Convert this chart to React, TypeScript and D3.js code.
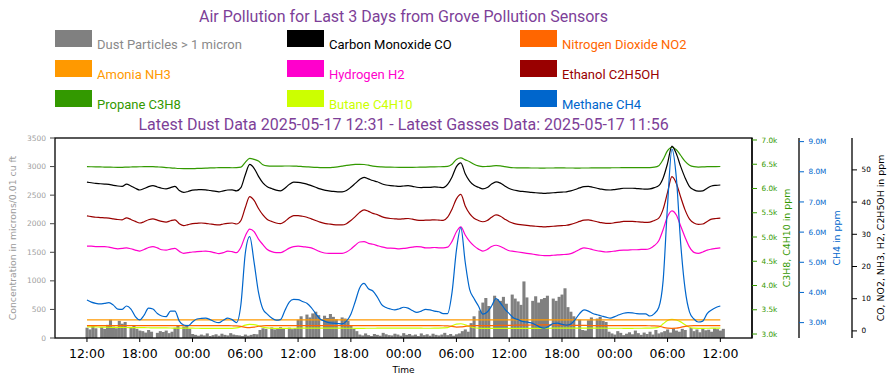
import React from 'react';
import * as d3 from 'd3';

const W = 896;
const H = 385;

const title = 'Air Pollution for Last 3 Days from Grove Pollution Sensors';
const subtitle = 'Latest Dust Data 2025-05-17 12:31 - Latest Gasses Data: 2025-05-17 11:56';

// time axis (matplotlib style 5% padding around the data)
const xMin = new Date(2025, 4, 14, 8, 22);
const xMax = new Date(2025, 4, 17, 15, 36);
const xTicks = d3.timeHour.every(6)!.range(new Date(2025, 4, 14, 12, 0), new Date(2025, 4, 17, 12, 1));

// dust every 20 min from 2025-05-14 12:00, gases every 30 min
const dustStart = new Date(2025, 4, 14, 12, 0);
const dustStepMin = 20;
const gasStart = new Date(2025, 4, 14, 12, 0);
const gasStepMin = 30;

const dust = [
  180, 150, 210, 170, 0, 190, 160, 230, 320, 200, 170, 300, 250, 280, 0, 190, 220, 160,
  130, 120, 95, 140, 110, 0, 90, 120, 105, 130, 85, 110,
  180, 220, 0, 200, 230, 160,
  70, 55, 40, 60, 45, 80, 35, 50, 65, 40, 75, 55, 45, 85, 60, 50,
  45, 35, 60, 40, 55, 70, 65,
  140, 170, 160, 0, 185, 150, 175, 190, 165, 0, 180, 155, 170,
  320, 380, 0, 410, 360, 430, 460, 400, 0, 390, 350, 420, 370, 330, 0, 360, 340, 300,
  220, 160, 120,
  60, 45, 80, 50, 35, 70, 55, 40, 90, 65, 50, 45, 75, 60, 40, 85, 55, 70, 45, 60,
  35, 80, 50, 65, 40, 75, 55, 45, 60, 90, 50, 70, 40, 65, 80,
  120, 150, 110,
  260, 380, 0, 480,
  620, 700, 560, 0, 740, 680, 650, 720, 600, 0, 760, 690, 640, 580, 990, 710, 0, 650, 730, 620,
  680, 700, 740, 0, 690, 650, 720, 760, 870, 540,
  460, 380, 0, 320,
  140, 130,
  310, 360, 0, 340, 370, 300, 280,
  110, 80, 60, 120, 90, 50, 75, 100, 65, 130, 85, 55, 95, 70, 110, 60, 140, 80, 100,
  120, 150, 95, 170, 130, 110, 160, 140, 0, 175, 120, 150, 100, 165, 135, 145, 110, 170, 155, 130, 160,
];

const propane = [
  6450, 6448, 6446, 6444, 6442, 6440, 6438, 6437,
  6437, 6440, 6443, 6446, 6448, 6450, 6450, 6450,
  6445, 6440, 6432, 6425, 6418, 6412, 6409, 6408,
  6410, 6413, 6416, 6420, 6424, 6427, 6429, 6430, 6429, 6428, 6430, 6440,
  6540, 6620, 6600, 6567, 6490, 6465, 6460, 6460, 6462,
  6464, 6464, 6463, 6458, 6452, 6446, 6440, 6436, 6432, 6430, 6429,
  6435, 6445, 6460, 6475, 6488, 6496, 6499, 6495, 6480, 6462, 6450,
  6445, 6442, 6440, 6438, 6437, 6437, 6437, 6437, 6438, 6440, 6442, 6444, 6446, 6448, 6450, 6455,
  6500, 6600, 6630, 6590, 6553, 6500, 6466, 6450, 6455, 6462,
  6470, 6465, 6450, 6435, 6428,
  6426, 6425, 6424, 6423, 6423, 6422, 6422, 6423, 6423, 6424, 6424, 6423, 6423, 6422, 6422, 6423,
  6423, 6424, 6425, 6426, 6426, 6427, 6428, 6428, 6429, 6429, 6429, 6430, 6430, 6430, 6432, 6440,
  6470, 6600, 6780, 6850, 6800, 6680, 6560, 6480, 6450, 6442, 6445, 6450, 6452, 6452, 6453,
];

const butane = [
  3150, 3148, 3146, 3144, 3142, 3140, 3138, 3136, 3135, 3134, 3133, 3132, 3131, 3130, 3129, 3128, 3127, 3126,
  3125, 3124, 3123, 3122, 3121, 3120, 3120, 3119, 3118, 3118, 3117, 3117, 3116, 3116, 3117, 3118, 3125,
  3150, 3185, 3200, 3195, 3170, 3140, 3125, 3118,
  3117, 3117, 3118, 3118, 3119, 3120, 3120, 3121, 3121, 3122, 3122, 3122, 3121, 3121, 3120, 3120, 3119, 3119, 3118, 3118,
  3118, 3119, 3119, 3120, 3120, 3121, 3121, 3122, 3122, 3122, 3121, 3121, 3120, 3120, 3119, 3119, 3120, 3122, 3125,
  3130, 3170, 3205, 3212, 3190, 3155, 3130, 3120, 3118,
  3117, 3117, 3116, 3116, 3115, 3115, 3115, 3116, 3116, 3117, 3117, 3118, 3118, 3119, 3119, 3120, 3120, 3120, 3121, 3121,
  3121, 3122, 3122, 3122, 3121, 3121, 3120, 3120, 3119, 3119, 3119, 3118, 3118, 3118, 3119, 3119, 3120, 3122, 3126,
  3140, 3210, 3280, 3303, 3290, 3250, 3190, 3140, 3120,
  3118, 3118, 3119, 3120, 3120, 3121,
];

// millions of ppm
const methane = [
  3.75, 3.68, 3.64, 3.62, 3.64, 3.66, 3.58, 3.45, 3.44, 3.55,
  3.45, 3.2, 3.09, 3.25, 3.48, 3.45, 3.3, 3.22, 3.2, 3.38,
  3.38, 3.05, 2.92, 2.9, 3.02, 3.12, 3.14, 3.15, 3.1, 3.03,
  3.0, 3.08, 3.15, 3.1, 3.0, 3.6, 5.3, 5.85, 5.0, 4.0,
  3.45, 3.28, 3.15, 3.08, 3.1, 3.4, 3.68, 3.77, 3.76, 3.7,
  3.64, 3.5, 3.3, 3.12, 3.05, 3.0, 2.98, 2.97, 2.96, 3.05,
  3.28, 3.7, 4.15, 4.3, 4.12, 4.05, 3.85, 3.6, 3.5, 3.45,
  3.42, 3.46, 3.51, 3.48, 3.4, 3.34, 3.38, 3.44, 3.42, 3.38,
  3.36, 3.3, 3.3, 4.0, 5.4, 6.15, 5.0, 4.1, 3.8, 3.55,
  3.28, 3.35, 3.55, 3.8, 3.65, 3.45, 3.3, 3.15, 3.1, 3.04,
  3.02, 2.99, 2.93, 2.85, 2.82, 2.88, 2.97, 2.98, 2.94, 2.92,
  2.95, 3.1, 3.3, 3.42, 3.38, 3.3, 3.26, 3.22, 3.18, 3.15,
  3.2, 3.26, 3.31, 3.33, 3.32, 3.3, 3.29, 3.29, 3.22, 3.3,
  3.5, 4.4, 6.9, 8.75, 7.8, 5.6, 4.1, 3.35, 3.12, 3.02,
  3.05, 3.3, 3.42, 3.5, 3.55,
];

const carbonMonoxide = [
  46.2, 46.0, 45.8, 45.7, 45.6, 45.5, 45.2, 45.0, 44.9, 45.6, 45.0, 44.3,
  43.75, 44.2, 44.8, 45.1, 44.7, 44.3, 44.1, 44.5, 44.9, 43.6, 43.0, 43.3,
  43.7, 43.8, 43.9, 43.8, 43.6, 43.4, 43.2, 43.5, 43.75, 43.8, 43.5, 44.5,
  48.5, 51.7, 50.5, 48.0, 46.0, 44.8, 44.2, 43.7, 43.5,
  44.3, 45.5, 46.2, 46.1, 45.9, 45.6, 45.1, 44.6, 44.1, 43.7, 43.5,
  43.3, 43.2, 43.2, 43.6, 44.6, 45.8, 47.0, 47.7, 47.2, 46.7, 46.3,
  45.7, 45.3, 45.1, 45.0, 44.9, 45.0, 45.1, 44.9, 44.6, 44.5, 44.6, 44.6, 44.7, 44.6, 44.5, 45.5,
  47.8, 51.0, 52.2, 48.8, 46.5, 45.2, 44.6, 44.1, 44.5, 45.6,
  46.3, 45.9, 45.0, 44.2, 43.75,
  43.5, 43.3, 43.2, 43.0, 42.9, 42.8, 42.7, 42.8, 42.9, 43.0, 43.1, 43.2, 43.5, 43.9, 44.4, 44.8,
  44.9, 44.6, 44.3, 44.0, 43.8, 43.75, 43.9, 44.1, 44.3, 44.3, 44.3, 44.2, 44.1, 44.0, 44.1, 44.5,
  45.1, 47.5, 52.0, 57.4, 55.0, 51.0, 47.5, 44.8, 43.8, 43.4, 43.5, 44.3, 45.0, 45.2, 45.3,
];

const hydrogen = [
  26.3, 26.3, 26.2, 26.2, 26.2, 26.0, 25.7, 25.5, 25.6, 25.8, 25.5, 25.1,
  24.8, 25.3, 25.9, 26.2, 25.8, 25.2, 25.1, 25.4, 25.6, 24.7, 24.1, 24.3,
  24.5, 24.6, 24.7, 24.8, 24.6, 24.3, 24.0, 24.3, 24.8, 24.6, 24.3, 26.0,
  29.5, 31.6, 30.8, 28.5, 26.8, 25.3, 24.6, 24.3, 24.3,
  24.9, 25.7, 26.2, 26.3, 26.2, 26.0, 25.8, 25.2, 24.6, 24.2, 24.1,
  24.1, 24.1, 24.1, 24.5, 25.4, 26.6, 27.6, 27.7, 27.2, 26.9, 26.5,
  26.1, 25.8, 25.7, 25.6, 25.5, 25.6, 25.8, 26.0, 26.2, 26.1, 25.8, 25.8, 25.9, 25.8, 25.8, 26.0,
  27.8, 30.8, 32.3, 29.8, 27.8, 26.4, 25.4, 24.8, 25.3, 26.2,
  26.6, 26.2, 25.5, 24.9, 24.7,
  24.5, 24.3, 24.1, 23.9, 23.7, 23.5, 23.4, 23.4, 23.5, 23.6, 23.7, 23.75, 24.0, 24.6, 25.3, 25.8,
  25.6, 25.2, 24.9, 24.7, 24.5, 24.6, 24.8, 25.0, 25.1, 25.1, 25.2, 25.2, 25.3, 25.3, 25.6, 26.5,
  28.0, 31.5, 35.5, 37.3, 36.0, 32.5, 29.0, 26.0, 24.4, 24.1, 24.5, 25.1, 25.4, 25.6, 25.8,
];

const ethanol = [
  35.7, 35.5, 35.3, 35.2, 35.1, 35.0, 34.8, 34.6, 34.5, 35.1, 34.6, 34.0,
  33.5, 33.9, 34.5, 34.8, 34.4, 34.0, 33.8, 34.2, 34.5, 33.3, 32.7, 33.0,
  33.3, 33.4, 33.5, 33.4, 33.2, 33.0, 32.9, 33.2, 33.4, 33.5, 33.2, 34.3,
  38.3, 41.7, 40.5, 38.0, 36.0, 34.6, 34.0, 33.5, 33.3,
  34.0, 35.1, 35.8, 35.8, 35.6, 35.3, 34.8, 34.3, 33.8, 33.4, 33.2,
  33.0, 32.9, 32.9, 33.3, 34.3, 35.5, 36.8, 37.6, 37.1, 36.5, 36.1,
  35.5, 35.1, 34.9, 34.8, 34.7, 34.8, 34.9, 34.7, 34.4, 34.3, 34.4, 34.4, 34.5, 34.4, 34.3, 35.3,
  37.8, 41.0, 42.4, 38.8, 36.4, 35.0, 34.3, 33.9, 34.3, 35.3,
  36.0, 35.6, 34.7, 33.9, 33.4,
  33.1, 32.9, 32.8, 32.6, 32.5, 32.4, 32.3, 32.4, 32.5, 32.6, 32.7, 32.8, 33.1, 33.5, 34.0, 34.4,
  34.5, 34.2, 33.9, 33.6, 33.4, 33.4, 33.6, 33.8, 34.0, 34.0, 34.0, 33.9, 33.8, 33.7, 33.8, 34.3,
  35.0, 37.8, 43.0, 47.9, 45.8, 41.5, 37.5, 34.7, 33.5, 33.1, 33.2, 34.0, 34.7, 34.9, 35.0,
];

const nitrogenDioxide = [
  1.65, 1.66, 1.66, 1.65, 1.64, 1.64, 1.65, 1.66, 1.66, 1.65, 1.64, 1.63, 1.64, 1.65, 1.66, 1.66, 1.65, 1.64,
  1.64, 1.65, 1.65, 1.64, 1.63, 1.63, 1.64, 1.64, 1.65, 1.65, 1.64, 1.64, 1.63, 1.63, 1.62, 1.6, 1.55,
  1.4, 1.1, 1.0, 1.15, 1.45,
  1.58, 1.62, 1.64, 1.65, 1.65, 1.66, 1.66, 1.65, 1.65, 1.64, 1.64, 1.65, 1.66, 1.66, 1.66, 1.65, 1.65, 1.64,
  1.64, 1.63, 1.63, 1.62, 1.62, 1.62, 1.63, 1.63, 1.64, 1.64, 1.65, 1.65, 1.65, 1.64, 1.64, 1.64, 1.63, 1.63,
  1.63, 1.64, 1.64, 1.64, 1.63, 1.6, 1.55,
  1.4, 1.2, 1.25, 1.4, 1.55, 1.62,
  1.64, 1.65, 1.66, 1.67, 1.68, 1.7, 1.72, 1.74, 1.76, 1.78, 1.8, 1.82, 1.84, 1.85, 1.86, 1.86, 1.85, 1.84,
  1.82, 1.8, 1.78, 1.76, 1.74, 1.72, 1.7, 1.68, 1.67, 1.66, 1.65, 1.65, 1.64, 1.64, 1.64, 1.63, 1.63, 1.63,
  1.63, 1.62, 1.62, 1.6, 1.58,
  1.5, 1.1, 0.85, 0.8, 0.85, 1.1, 1.4, 1.55, 1.62,
  1.64, 1.65, 1.65, 1.66, 1.66, 1.66,
];

const ammonia = [
  3.45, 3.45, 3.45, 3.45, 3.45, 3.45, 3.45, 3.45, 3.45, 3.45, 3.45, 3.45, 3.45, 3.45, 3.45, 3.45, 3.45, 3.45, 3.45, 3.45, 3.45, 3.45, 3.45, 3.45, 3.45, 3.45, 3.45, 3.45, 3.45,
  3.45, 3.45, 3.45, 3.45, 3.45, 3.45, 3.45, 3.45, 3.45, 3.45, 3.45, 3.45, 3.45, 3.45, 3.45, 3.45, 3.45, 3.45, 3.45, 3.45, 3.45, 3.45, 3.45, 3.45, 3.45, 3.45, 3.45, 3.45, 3.45,
  3.45, 3.45, 3.45, 3.45, 3.45, 3.45, 3.45, 3.45, 3.45, 3.45, 3.45, 3.45, 3.45, 3.45, 3.45, 3.45, 3.45, 3.45, 3.45, 3.45, 3.45, 3.45, 3.45, 3.45, 3.45, 3.45, 3.45, 3.45, 3.45,
  3.45, 3.45, 3.45, 3.45, 3.45, 3.45, 3.45, 3.45, 3.45, 3.45, 3.45, 3.45, 3.45, 3.45, 3.45, 3.45, 3.45, 3.45, 3.45, 3.45, 3.45, 3.45, 3.45, 3.45, 3.45, 3.45, 3.45, 3.45, 3.45,
  3.45, 3.45, 3.45, 3.45, 3.45, 3.45, 3.45, 3.45, 3.45, 3.45, 3.45, 3.45, 3.45, 3.45, 3.45, 3.45, 3.45, 3.45, 3.45, 3.45, 3.45, 3.45, 3.45, 3.45, 3.45, 3.45, 3.45, 3.45, 3.45,
];

const dustTicks = [0, 500, 1000, 1500, 2000, 2500, 3000, 3500];
const hcTicks = [3000, 3500, 4000, 4500, 5000, 5500, 6000, 6500, 7000];
const ch4Ticks = [3, 4, 5, 6, 7, 8, 9];
const ppmTicks = [0, 10, 20, 30, 40, 50];

const legendItems = [
  { label: 'Dust Particles > 1 micron', color: '#808080', text: '#8a8a8a' },
  { label: 'Carbon Monoxide CO', color: '#000000', text: '#000000' },
  { label: 'Nitrogen Dioxide NO2', color: '#ff6600', text: '#ff6600' },
  { label: 'Amonia NH3', color: '#ff9900', text: '#ff9900' },
  { label: 'Hydrogen H2', color: '#ff00cc', text: '#ff00cc' },
  { label: 'Ethanol C2H5OH', color: '#990000', text: '#990000' },
  { label: 'Propane C3H8', color: '#339900', text: '#339900' },
  { label: 'Butane C4H10', color: '#ccff00', text: '#ccff00' },
  { label: 'Methane CH4', color: '#0066cc', text: '#0066cc' },
];

const TICK_FONT = 'DejaVu Sans, sans-serif';
const HTML_FONT = 'Roboto, sans-serif';
const PURPLE = '#7d3f98';

const App = () => {
  const left = 55, right = 752, top = 138, bottom = 338;

  const x = d3.scaleTime().domain([xMin, xMax]).range([left, right]);
  const yDust = d3.scaleLinear().domain([0, 3500]).range([bottom, top]);
  const yHc = d3.scaleLinear().domain([2918, 7041]).range([bottom, top]);
  const yCh4 = d3.scaleLinear().domain([2.49, 9.12]).range([bottom, top]);
  const yPpm = d3.scaleLinear().domain([-2.2, 59.9]).range([bottom, top]);

  const dustTime = (i: number) => d3.timeMinute.offset(dustStart, i * dustStepMin);
  const gasTime = (j: number) => d3.timeMinute.offset(gasStart, j * gasStepMin);
  const barW = x(dustTime(1)) - x(dustTime(0));

  const mkLine = (scale: d3.ScaleLinear<number, number>) =>
    d3.line<number>()
      .x((_, j) => x(gasTime(j)))
      .y(v => scale(v))
      .curve(d3.curveMonotoneX);

  const gasSeries = [
    { data: propane, scale: yHc, color: '#339900' },
    { data: butane, scale: yHc, color: '#ccff00' },
    { data: ammonia, scale: yPpm, color: '#ff9900' },
    { data: nitrogenDioxide, scale: yPpm, color: '#ff6600' },
    { data: ethanol, scale: yPpm, color: '#990000' },
    { data: hydrogen, scale: yPpm, color: '#ff00cc' },
    { data: carbonMonoxide, scale: yPpm, color: '#000000' },
    { data: methane, scale: yCh4, color: '#0066cc' },
  ];

  const fmtTime = d3.timeFormat('%H:%M');
  const legendCols = [55, 287, 520];
  const legendRows = [30, 60, 90];

  const rightAxes = [
    { pos: 752, ticks: hcTicks, scale: yHc, color: '#339900', fmt: (v: number) => `${(v / 1000).toFixed(1)}k`,
      label: 'C3H8, C4H10 in ppm', labelX: 790, spine: '#000' },
    { pos: 799, ticks: ch4Ticks, scale: yCh4, color: '#0066cc', fmt: (v: number) => `${v.toFixed(1)}M`,
      label: 'CH4 in ppm', labelX: 840, spine: '#000' },
    { pos: 852, ticks: ppmTicks, scale: yPpm, color: '#000000', fmt: (v: number) => `${v}`,
      label: 'CO, NO2, NH3, H2, C2H5OH in ppm', labelX: 884, spine: '#000' },
  ];

  return (
    <svg width={W} height={H} style={{ position: 'absolute', left: 0, top: 0, background: '#fff' }}>
      <text x={403.5} y={22} textAnchor="middle" fontFamily={HTML_FONT} fontSize={16} fill={PURPLE}>{title}</text>

      {legendItems.map((d, i) => {
        const lx = legendCols[i % 3];
        const ly = legendRows[Math.floor(i / 3)];
        return (
          <g key={d.label}>
            <rect x={lx} y={ly} width={37} height={17} fill={d.color} />
            <text x={lx + 42} y={ly + 19.3} fontFamily={HTML_FONT} fontSize={13} fill={d.text}>{d.label}</text>
          </g>
        );
      })}

      <text x={403.5} y={130} textAnchor="middle" fontFamily={HTML_FONT} fontSize={16} fill={PURPLE}>{subtitle}</text>

      {/* dust bars */}
      <g fill="#808080">
        {dust.map((v, i) => (
          v > 0 ? <rect key={i} x={x(dustTime(i)) - barW / 2} y={yDust(v)} width={barW + 0.15} height={bottom - yDust(v)} /> : null
        ))}
      </g>

      {/* gas lines */}
      <g fill="none" strokeWidth={1.2} strokeLinejoin="round">
        {gasSeries.map((s, k) => (
          <path key={k} d={mkLine(s.scale)(s.data) || ''} stroke={s.color} />
        ))}
      </g>

      {/* frame */}
      <rect x={left} y={top} width={right - left} height={bottom - top} fill="none" stroke="#000" strokeWidth={1.3} />

      {/* left axis */}
      {dustTicks.map(t => (
        <g key={t}>
          <line x1={left - 5} x2={left} y1={yDust(t)} y2={yDust(t)} stroke="#444" />
          <text x={left - 9} y={yDust(t)} dy="0.35em" textAnchor="end" fontFamily={TICK_FONT} fontSize={7.5} fill="#a0a0a0">{t}</text>
        </g>
      ))}
      <text transform={`translate(15.5,${(top + bottom) / 2}) rotate(-90)`} textAnchor="middle" fontFamily={TICK_FONT} fontSize={9.3} fill="#9a9a9a">
        Concentration in microns/0.01 cu ft
      </text>

      {/* right axes */}
      {rightAxes.map(a => (
        <g key={a.label}>
          <line x1={a.pos} x2={a.pos} y1={top} y2={bottom} stroke={a.spine} strokeWidth={1.3} />
          {a.ticks.map(t => (
            <g key={t}>
              <line x1={a.pos} x2={a.pos + 5} y1={a.scale(t)} y2={a.scale(t)} stroke={a.color} />
              <text x={a.pos + 9.5} y={a.scale(t)} dy="0.35em" fontFamily={TICK_FONT} fontSize={7.3} fill={a.color}>{a.fmt(t)}</text>
            </g>
          ))}
          <text transform={`translate(${a.labelX},${(top + bottom) / 2}) rotate(-90)`} textAnchor="middle" fontFamily={TICK_FONT} fontSize={9.4} fill={a.color}>
            {a.label}
          </text>
        </g>
      ))}

      {/* time axis */}
      {xTicks.map(t => (
        <g key={+t}>
          <line x1={x(t)} x2={x(t)} y1={bottom} y2={bottom + 4} stroke="#000" />
          <text x={x(t)} y={358} textAnchor="middle" fontFamily={TICK_FONT} fontSize={12.5} fill="#000">{fmtTime(t)}</text>
        </g>
      ))}
      <text x={403.5} y={373} textAnchor="middle" fontFamily={TICK_FONT} fontSize={9} fill="#000">Time</text>
    </svg>
  );
};

export default App;
